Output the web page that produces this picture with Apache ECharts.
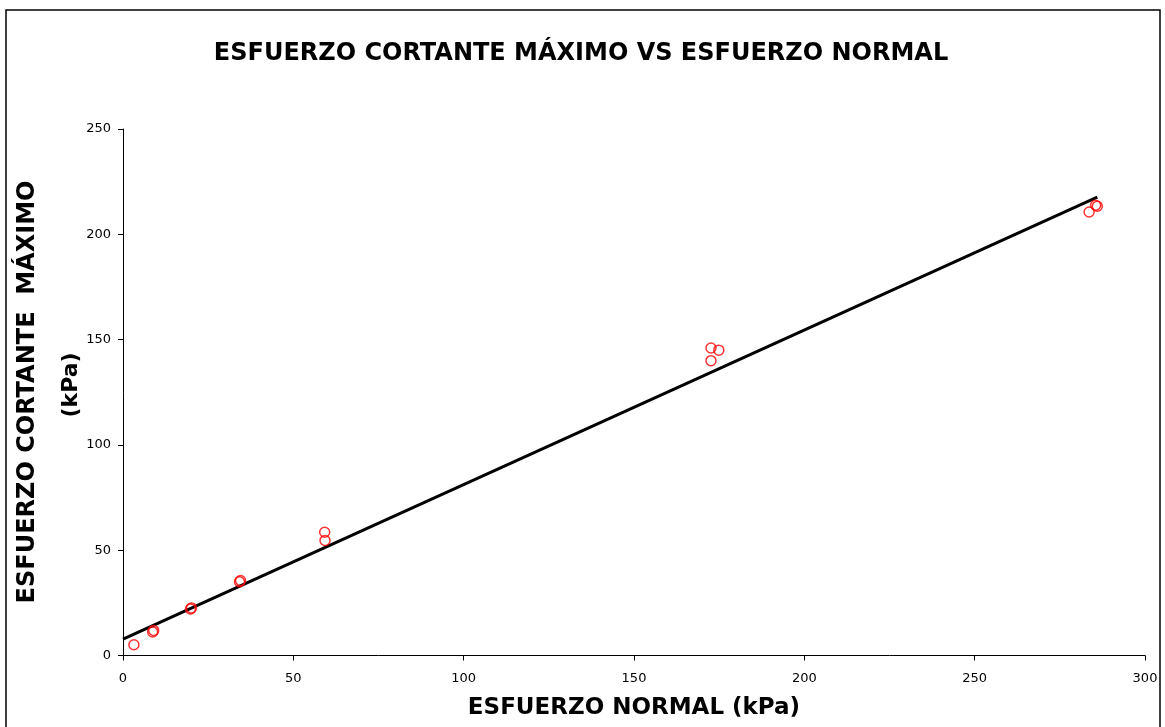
<!DOCTYPE html>
<html>
<head>
<meta charset="utf-8">
<script src="https://cdn.jsdelivr.net/npm/echarts@6/dist/echarts.min.js"></script>
<style>
  html, body { margin: 0; padding: 0; background: #fff; }
  #chart { width: 1165px; height: 727px; }
</style>
</head>
<body>
<div id="chart"></div>
<script>
// datos
var normalStress = [3.2, 8.7, 9.0, 19.8, 20.1, 34.2, 34.5, 59.2, 59.3, 172.6, 174.9, 172.6, 283.6, 286.0, 285.5];
var shearStress  = [5.1, 11.2, 11.9, 22.1, 22.6, 35.0, 35.6, 58.5, 54.6, 146.0, 145.0, 140.0, 210.6, 213.3, 213.8];
var fitX = [0, 286];
var fitY = [7.8, 217.7];
var xTicks = [0, 50, 100, 150, 200, 250, 300];
var yTicks = [0, 50, 100, 150, 200, 250];

var pts = normalStress.map(function (x, i) { return [x, shearStress[i]]; });
var fit = fitX.map(function (x, i) { return [x, fitY[i]]; });

var chart = echarts.init(document.getElementById("chart"));
chart.setOption({
  backgroundColor: "#fff",
  animation: false,
  title: {
    text: "ESFUERZO CORTANTE MÁXIMO VS ESFUERZO NORMAL",
    left: 576,
    textAlign: "center",
    top: 37,
    textStyle: { fontFamily: "DejaVu Sans", fontWeight: "bold", fontSize: 24, color: "#000" }
  },
  grid: { left: 123, right: 20, top: 129, bottom: 71.5 },
  xAxis: {
    type: "value",
    min: xTicks[0],
    max: xTicks[xTicks.length - 1],
    interval: 50,
    splitLine: { show: false },
    axisLine: { lineStyle: { color: "#000", width: 1 } },
    axisTick: { show: true, length: 5, lineStyle: { color: "#000" } },
    axisLabel: { color: "#000", fontFamily: "DejaVu Sans", fontSize: 13, margin: 17 },
    name: "ESFUERZO NORMAL (kPa)",
    nameLocation: "middle",
    nameGap: 41,
    nameTextStyle: { color: "#000", fontFamily: "DejaVu Sans", fontWeight: "bold", fontSize: 23 }
  },
  yAxis: {
    type: "value",
    min: yTicks[0],
    max: yTicks[yTicks.length - 1],
    interval: 50,
    splitLine: { show: false },
    axisLine: { show: true, lineStyle: { color: "#000", width: 1 } },
    axisTick: { show: true, length: 5, lineStyle: { color: "#000" } },
    axisLabel: { color: "#000", fontFamily: "DejaVu Sans", fontSize: 13, margin: 12 }
  },
  graphic: [
    {
      type: "rect",
      shape: { x: 6, y: 10, width: 1154, height: 740 },
      style: { fill: null, stroke: "#000", lineWidth: 1.5 },
      silent: true
    },
    {
      type: "text",
      x: 28, y: 392, rotation: Math.PI / 2,
      style: {
        text: "ESFUERZO CORTANTE  MÁXIMO",
        fontFamily: "DejaVu Sans", fontWeight: "bold", fontSize: 24,
        fill: "#000", align: "center", verticalAlign: "middle"
      }
    },
    {
      type: "text",
      x: 71, y: 385, rotation: Math.PI / 2,
      style: {
        text: "(kPa)",
        fontFamily: "DejaVu Sans", fontWeight: "bold", fontSize: 22,
        fill: "#000", align: "center", verticalAlign: "middle"
      }
    }
  ],
  series: [
    {
      type: "line",
      data: fit,
      symbol: "none",
      lineStyle: { color: "#000", width: 3 },
      z: 2
    },
    {
      type: "scatter",
      data: pts,
      symbol: "circle",
      symbolSize: 10,
      itemStyle: { color: "rgba(255,255,255,0)", borderColor: "#ff0000", borderWidth: 1.5 },
      z: 3
    }
  ]
});
</script>
</body>
</html>
